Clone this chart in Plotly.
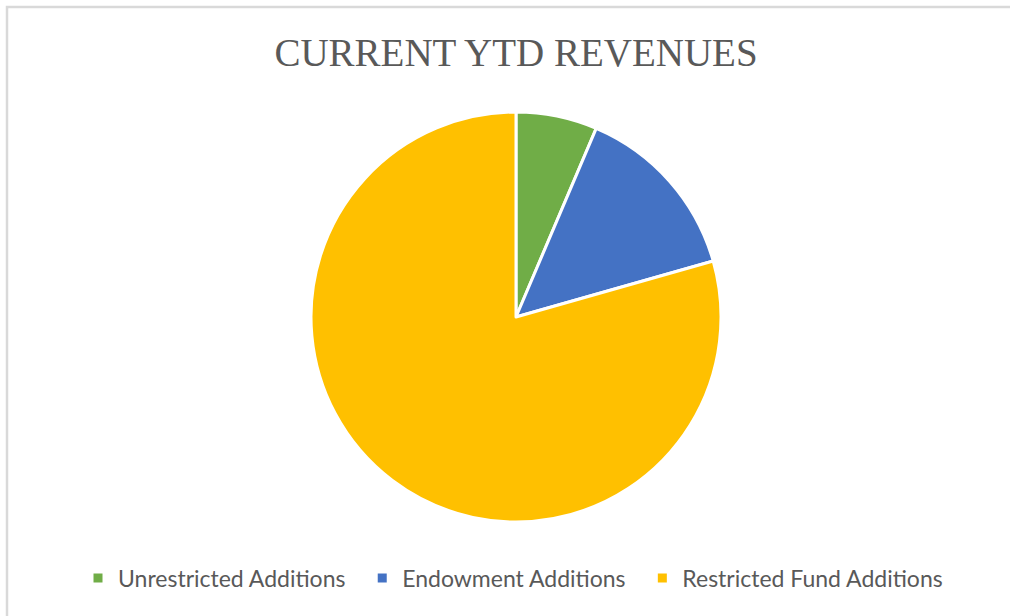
import plotly.graph_objects as go

W, H = 1010, 616

labels = ["Unrestricted Additions", "Endowment Additions", "Restricted Fund Additions"]
values = [6.4, 14.2, 79.4]
colors = ["#70AD47", "#4472C4", "#FFC000"]

# pad legend entries a little so the gaps between them match the reference
pad = "\u00a0" * 2
legend_labels = [lab + pad for lab in labels[:-1]] + [labels[-1]]

fig = go.Figure(go.Pie(
    labels=legend_labels,
    values=values,
    sort=False,
    direction="clockwise",
    rotation=0,
    textinfo="none",
    hoverinfo="label+percent",
    marker=dict(colors=colors, line=dict(color="white", width=3)),
    domain=dict(x=[311 / W, 721 / W], y=[1 - 522 / H, 1 - 112 / H]),
))

fig.update_layout(
    width=W,
    height=H,
    margin=dict(l=0, r=0, t=0, b=0),
    paper_bgcolor="white",
    title=dict(
        text="CURRENT YTD REVENUES",
        x=516 / W, xanchor="center",
        y=1 - 52 / H, yanchor="middle",
        font=dict(family="Liberation Serif", size=39, color="#595959"),
    ),
    legend=dict(
        orientation="h",
        x=513 / W, xanchor="center",
        y=1 - 578 / H, yanchor="middle",
        font=dict(family="Lato", size=23, color="#595959"),
        itemwidth=30,
    ),
    shapes=[dict(
        type="rect", xref="paper", yref="paper",
        x0=7 / W, x1=1.02, y0=-0.02, y1=1 - 7 / H,
        line=dict(color="#D9D9D9", width=2.5),
        fillcolor="rgba(0,0,0,0)",
    )],
)

# drop the browser's default body margin so the figure sits at the page origin
fig.write_html("out.html", config={"displayModeBar": False},
               post_script="document.body.style.margin='0';")
